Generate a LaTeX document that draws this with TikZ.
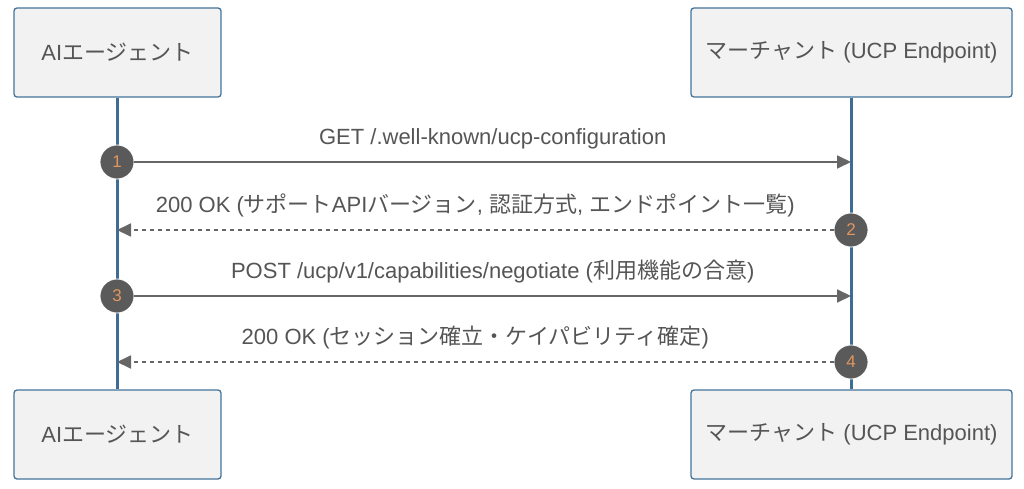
\documentclass[tikz,border=0pt]{standalone}
\usepackage{fontspec}
\setmainfont{Liberation Sans}
\newfontfamily\jp{Noto Sans CJK JP}
\newcommand{\ja}[1]{{\jp #1}}
\usetikzlibrary{arrows.meta}

\definecolor{boxfill}{HTML}{F2F2F2}
\definecolor{boxline}{HTML}{44739A}
\definecolor{lifeline}{HTML}{3E6D93}
\definecolor{msgline}{HTML}{666666}
\definecolor{numfill}{HTML}{5A5A5A}
\definecolor{numtext}{HTML}{E0965F}
\definecolor{txt}{HTML}{555555}

\begin{document}
\begin{tikzpicture}[x=1pt,y=-1pt]

    \tikzset{actor/.style={draw=boxline,fill=boxfill,line width=1.3pt,rounded corners=3pt,
                           minimum width=207pt,minimum height=89pt,text=txt,
                           font=\fontsize{22}{26}\selectfont}}
    \tikzset{actorR/.style={actor,minimum width=321pt}}
    \tikzset{life/.style={draw=lifeline,line width=2.2pt}}
    \tikzset{msg/.style={draw=msgline,line width=1.8pt,-{Triangle[length=14pt,width=13pt]}}}
    \tikzset{reply/.style={msg,dash pattern=on 4pt off 4pt}}
    \tikzset{num/.style={circle,fill=numfill,draw=white,line width=0.8pt,minimum size=34pt,inner sep=0pt,
                         text=numtext,font=\fontsize{17}{20}\selectfont}}
    \tikzset{lbl/.style={text=txt,font=\fontsize{22}{26}\selectfont}}

    \useasboundingbox (0,0) rectangle (1024,489);

    \node[actor]  (a1) at (117.5, 52.5) {AI\ja{エージェント}};
    \node[actorR] (b1) at (851.5, 52.5) {\ja{マーチャント} (UCP Endpoint)};
    \node[actor]  (a2) at (117.5,434.5) {AI\ja{エージェント}};
    \node[actorR] (b2) at (851.5,434.5) {\ja{マーチャント} (UCP Endpoint)};

    \draw[life] (a1) -- (a2);
    \draw[life] (b1) -- (b2);

    \coordinate (m1) at (851,162);
    \coordinate (m2) at (117,230);
    \coordinate (m3) at (851,296);
    \coordinate (m4) at (117,362);

    \node[num] (n1) at (117,162) {1};
    \node[num] (n2) at (851,230) {2};
    \node[num] (n3) at (117,296) {3};
    \node[num] (n4) at (851,362) {4};

    \draw[msg]   (n1) -- (m1) node[lbl,midway,above=9pt]{GET /.well-known/ucp-configuration};
    \draw[reply] (n2) -- (m2) node[lbl,midway,above=9pt]{200 OK (\ja{サポート}API\ja{バージョン}, \ja{認証方式}, \ja{エンドポイント一覧})};
    \draw[msg]   (n3) -- (m3) node[lbl,midway,above=9pt]{POST /ucp/v1/capabilities/negotiate (\ja{利用機能の合意})};
    \draw[reply] (n4) -- (m4) node[lbl,midway,above=9pt]{200 OK (\ja{セッション確立・ケイパビリティ確定})};

\end{tikzpicture}
\end{document}
